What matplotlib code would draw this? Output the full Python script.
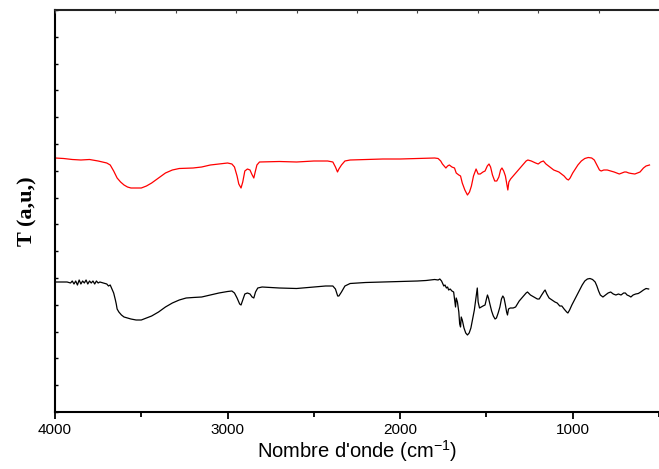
import numpy as np
import matplotlib
matplotlib.use("Agg")
import matplotlib.pyplot as plt

# Wavenumbers (cm-1) and transmittance (arbitrary units)
red_wn = [4000, 3950, 3900, 3850, 3800, 3750, 3700, 3680, 3660, 3640, 3620, 3600, 3580, 3560, 3520,
          3500, 3470, 3440, 3400, 3360, 3320, 3280, 3200, 3150, 3100, 3050, 3000, 2975, 2960,
          2945, 2935, 2922, 2912, 2900, 2885, 2870, 2860, 2848, 2840, 2830, 2815, 2700, 2600,
          2500, 2420, 2390, 2375, 2363, 2355, 2340, 2320, 2290, 2200, 2100, 2000, 1900, 1800,
          1780, 1765, 1755, 1745, 1735, 1725, 1715, 1700, 1685, 1675, 1660, 1650, 1640, 1625,
          1610, 1598, 1587, 1575, 1560, 1548, 1536, 1520, 1508, 1495, 1485, 1476, 1465, 1452,
          1440, 1428, 1418, 1410, 1400, 1390, 1380, 1376, 1370, 1360, 1345, 1330, 1310, 1290,
          1270, 1260, 1240, 1215, 1200, 1185, 1170, 1155, 1140, 1125, 1110, 1095, 1080, 1065,
          1050, 1035, 1025, 1015, 1000, 985, 970, 950, 930, 910, 890, 875, 860, 845, 835, 820,
          800, 780, 760, 745, 730, 715, 700, 690, 675, 660, 640, 625, 610, 600, 590, 575, 555]
red_t = [254, 253.5, 252.5, 252, 252.5, 251, 249, 247, 241, 234, 230, 227, 225, 224, 224,
         224, 226, 229, 234, 239, 242, 243.5, 244, 245, 247, 248, 249, 248, 245,
         236, 228, 224, 230, 241, 243, 242, 238, 234, 240, 247, 250, 250.5, 250,
         251, 251, 250, 245, 240, 243, 247, 251, 252, 252.5, 253, 253, 253.5, 254,
         253.5, 251, 248, 246, 244, 246, 247, 245, 244, 239, 237, 236, 229, 222,
         217, 220, 226, 236, 243, 238, 238, 240, 241, 246, 248, 245, 237, 231,
         231, 235, 242, 244, 241, 236, 226, 222, 230, 233, 236, 239, 243, 247,
         251, 252, 251, 249, 248, 250, 251, 248, 246, 244, 242, 241, 240, 238,
         236, 233, 232, 234, 239, 243, 247, 251, 253.5, 254.5, 254, 252, 247, 242, 241, 242,
         242, 241, 240, 239, 238, 239, 240, 240, 239, 238.5, 238, 239, 240, 242, 244, 246, 247]

black_wn = [4000, 3960, 3930, 3910, 3900, 3890, 3880, 3870, 3860, 3850, 3840, 3830, 3820, 3810,
            3800, 3790, 3780, 3770, 3760, 3750, 3740, 3720, 3700, 3690, 3680, 3670, 3660, 3650,
            3645, 3640, 3630, 3615, 3600, 3580, 3560, 3530, 3500, 3470, 3440, 3400, 3360, 3320,
            3280, 3240, 3200, 3150, 3100, 3050, 3000, 2975, 2960, 2945, 2930, 2922, 2912, 2900,
            2885, 2870, 2858, 2848, 2838, 2825, 2800, 2750, 2700, 2600, 2500, 2432, 2390, 2375,
            2362, 2355, 2340, 2320, 2290, 2200, 2100, 2000, 1900, 1850, 1800, 1780, 1770, 1760,
            1752, 1747, 1740, 1732, 1725, 1719, 1710, 1700, 1690, 1683, 1679, 1675, 1668, 1660,
            1655, 1650, 1646, 1640, 1630, 1620, 1610, 1600, 1590, 1580, 1570, 1562, 1556, 1553,
            1548, 1540, 1530, 1520, 1508, 1500, 1494, 1488, 1480, 1470, 1460, 1450, 1442, 1432,
            1422, 1413, 1405, 1398, 1390, 1383, 1378, 1372, 1362, 1345, 1331, 1310, 1290, 1270,
            1262, 1245, 1225, 1205, 1194, 1180, 1165, 1160, 1150, 1137, 1120, 1103, 1090, 1075,
            1063, 1050, 1035, 1028, 1018, 1005, 990, 975, 960, 945, 930, 915, 900, 885, 870, 860,
            850, 840, 825, 810, 795, 780, 765, 750, 735, 720, 705, 695, 685, 672, 663, 650, 635,
            620, 606, 590, 575, 560]
black_t = [130, 130, 130, 129, 131, 128, 131, 127, 132, 128, 131, 129, 132, 128,
           131, 129, 131, 128, 131, 129, 130, 129, 128, 126, 127, 123, 119, 112,
           108, 103, 100, 97, 95, 94, 93, 92, 92, 94, 96, 100, 105, 109,
           112, 114, 114.5, 115, 117, 119, 120.5, 121, 119, 114, 108, 107, 112, 118,
           119, 118, 115, 114, 120, 124, 125, 124.5, 124, 123.5, 125, 126, 126, 123,
           116, 116, 120, 126, 128.5, 129.5, 130, 130.5, 131, 131.5, 132.5, 132, 133, 131,
           128, 126, 127, 124, 125, 122, 123, 121, 120, 110, 105, 114, 110, 100,
           88, 85, 95, 92, 84, 79, 77, 79, 84, 93, 102, 112, 120, 124,
           110, 104, 105, 106, 107, 113, 117, 114, 108, 101, 96, 93, 94, 99,
           105, 113, 116, 114, 107, 100, 97, 103, 104, 104, 105, 111, 115, 119,
           120, 117, 115, 113, 113, 117, 121, 122, 118, 114, 112, 110, 109, 106,
           106, 103, 100, 99, 102, 107, 112, 117, 122, 127, 131, 133, 133.5, 132.5, 130, 126,
           121, 117, 115, 117, 119, 120, 118, 117, 118, 117, 119, 119, 117, 116, 115, 117, 118,
           118.5, 120, 122, 123.5, 123]

x_major = [4000, 3000, 2000, 1000]
x_labels = ["4000", "3000", "2000", "1000"]

fig = plt.figure(figsize=(6.59, 4.69), dpi=100)
ax = fig.add_axes([55/659, 57/469, 1 - 55/659, 402/469])

ax.plot(red_wn, red_t, color="#ff0000", lw=0.9)
ax.plot(black_wn, black_t, color="black", lw=0.9)

ax.set_xlim(4000, 555)
ax.set_ylim(0, 402)

ax.set_xticks(x_major)
ax.set_xticklabels(x_labels, fontfamily="Liberation Sans", fontsize=11)
ax.set_xticks([3500, 2500, 1500, 500], minor=True)
ax.tick_params(axis="x", which="major", direction="out", length=5, width=1.3, pad=3, top=False)
ax.tick_params(axis="x", which="minor", direction="out", length=3.5, width=1.3, top=False)

ax.set_yticks(np.arange(0, 403, 26.8))
ax.set_yticklabels([])
ax.tick_params(axis="y", which="major", direction="in", length=2.5, width=1.0, right=False)

for s in ["left", "bottom", "top"]:
    ax.spines[s].set_linewidth(1.5)
ax.spines["top"].set_color("#222222")
ax.spines["right"].set_visible(False)

ax2 = ax.twiny()
ax2.set_xlim(ax.get_xlim())
ax2.set_xticks(np.arange(4000, 554, -350))
ax2.set_xticklabels([])
ax2.tick_params(axis="x", direction="in", length=2, width=0.8, colors="#444444")
for s in ["left", "bottom", "right", "top"]:
    ax2.spines[s].set_visible(False)

ax.set_xlabel("Nombre d'onde (cm$^{\\mathregular{-1}}$)", fontfamily="Liberation Sans",
              fontsize=14.5, labelpad=1)
ax.set_ylabel("T (a,u,)", fontfamily="Liberation Serif", fontweight="bold", fontsize=16, labelpad=9)

fig.savefig("out.png", dpi=100)
